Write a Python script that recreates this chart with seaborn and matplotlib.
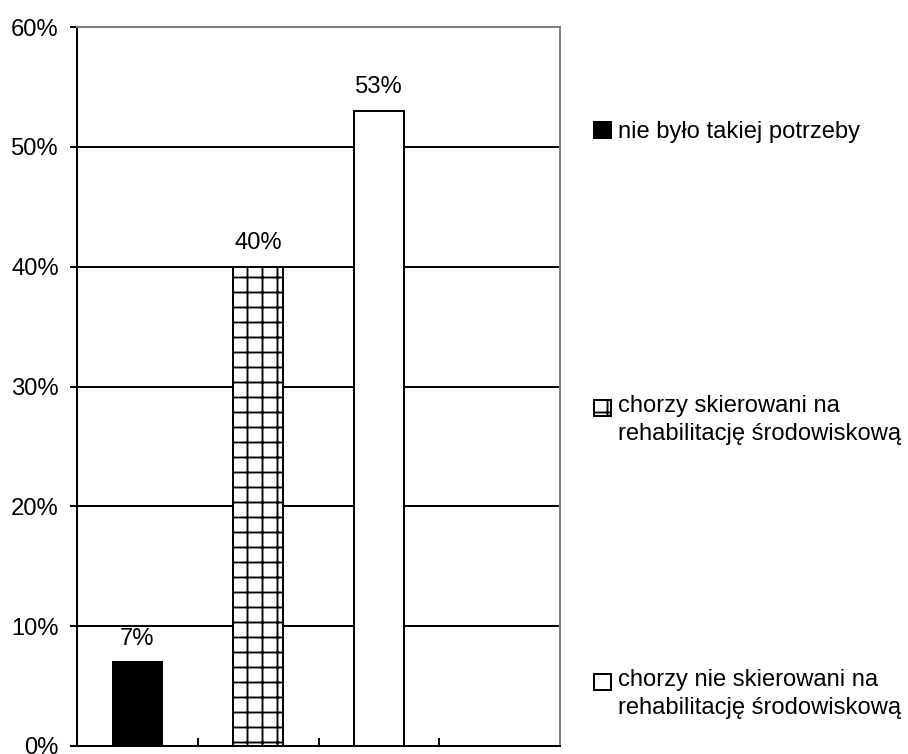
import matplotlib
matplotlib.use("Agg")
import matplotlib.pyplot as plt
import seaborn as sns
import pandas as pd
from matplotlib.patches import Rectangle
from matplotlib.legend_handler import HandlerPatch
from matplotlib.ticker import PercentFormatter

# --- data -------------------------------------------------------------
categories = [
    "nie było takiej potrzeby",
    "chorzy skierowani na\nrehabilitację środowiskową",
    "chorzy nie skierowani na\nrehabilitację środowiskową",
]
values = [7, 40, 53]
value_labels = ["7%", "40%", "53%"]
y_ticks = [0, 10, 20, 30, 40, 50, 60]

# --- style --------------------------------------------------------------
sns.set_style("white")
plt.rcParams["font.family"] = ["Liberation Sans", "DejaVu Sans"]
plt.rcParams["hatch.linewidth"] = 1.5
FS = 19
LW = 1.6
LINESPACING = 1.4

DPI = 90
fig = plt.figure(figsize=(908 / DPI, 754 / DPI), dpi=DPI)
ax = fig.add_axes([77 / 908, 1 - 746 / 754, (560 - 77) / 908, (746 - 27) / 754])

df = pd.DataFrame({"kategoria": categories, "odsetek": values})
order = categories + [" "]  # fourth, empty slot on the category axis

sns.barplot(
    data=df, x="kategoria", y="odsetek", hue="kategoria",
    order=order, hue_order=categories,
    palette=["black", "white", "white"],
    edgecolor="black", linewidth=LW, width=0.41,
    saturation=1, legend=False, ax=ax,
)

hatches = ["", "+", ""]
for cont, h, lab in zip(ax.containers, hatches, value_labels):
    for bar in cont:
        bar.set_hatch(h)
        bar.set_edgecolor("black")
    ax.bar_label(cont, labels=[lab], padding=10, fontsize=FS, color="black")

# --- axes ---------------------------------------------------------------
ax.set_ylim(0, 60)
ax.set_yticks(y_ticks)
ax.yaxis.set_major_formatter(PercentFormatter(decimals=0))
ax.set_xlim(-0.5, 3.5)
ax.set_xticks([])
ax.set_xticks([0.5, 1.5, 2.5, 3.5], minor=True)
ax.set_xlabel("")
ax.set_ylabel("")

ax.tick_params(axis="y", which="major", direction="out", length=5.6, width=LW,
               color="black", labelsize=FS, labelcolor="black", pad=9, left=True)
ax.tick_params(axis="x", which="minor", direction="in", length=6.4, width=LW,
               color="black", bottom=True)

ax.yaxis.grid(True, color="black", linewidth=LW)
ax.xaxis.grid(False)
ax.set_axisbelow(True)

for side in ["left", "bottom"]:
    ax.spines[side].set_color("black")
    ax.spines[side].set_linewidth(LW)
for side in ["top", "right"]:
    ax.spines[side].set_color("#808080")
    ax.spines[side].set_linewidth(LW)
    ax.spines[side].set_visible(True)


# --- legend entries: marker beside the first line of each label ---------
def make_handler(n_lines):
    shift = 0.5 * (n_lines - 1) * 0.73 * FS * LINESPACING

    def patch_func(legend, orig_handle, xdescent, ydescent, width, height, fontsize):
        return Rectangle((-xdescent, -ydescent + shift), width, height)

    return HandlerPatch(patch_func=patch_func)


legend_centers = [132, 420, 694]
for cont, label, yc in zip(ax.containers, categories, legend_centers):
    patch = cont.patches[0]
    n_lines = label.count("\n") + 1
    leg = fig.legend(
        handles=[patch], labels=[label],
        loc="center left", bbox_to_anchor=(594 / 908, 1 - yc / 754),
        frameon=False, borderpad=0, borderaxespad=0,
        handlelength=0.7, handleheight=0.65, handletextpad=0.3,
        fontsize=FS, handler_map={patch: make_handler(n_lines)},
    )
    for t in leg.get_texts():
        t.set_linespacing(LINESPACING)
        t.set_color("black")

fig.savefig("out.png", dpi=DPI, facecolor="white")
